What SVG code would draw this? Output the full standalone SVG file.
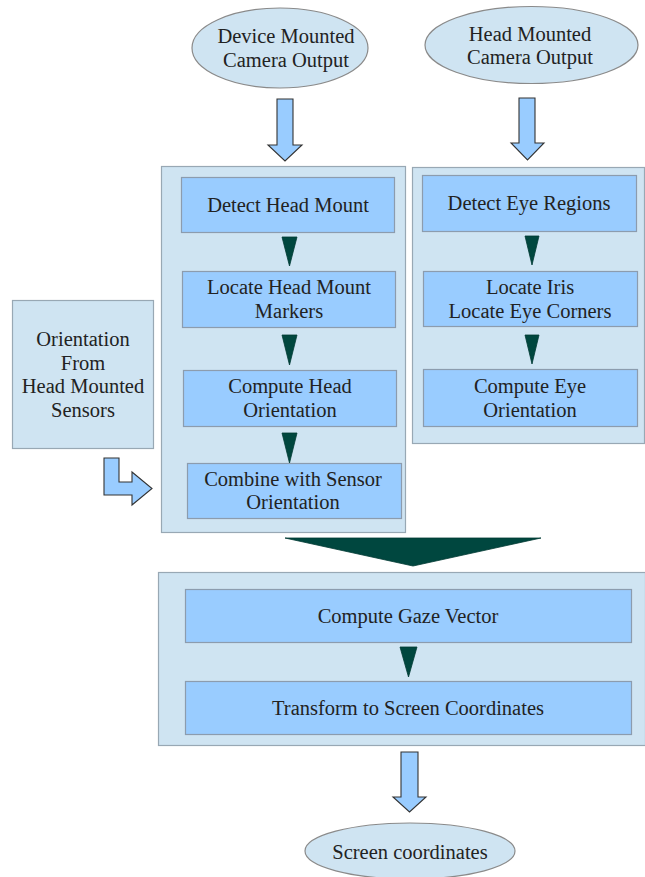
<svg xmlns="http://www.w3.org/2000/svg" width="645" height="877" viewBox="0 0 645 877">
<defs>
<style>
.bg{fill:#ffffff}
.cont{fill:#cfe4f2;stroke:#98a8b4;stroke-width:1.2}
.box{fill:#99ccff;stroke:#8c9cae;stroke-width:1.2}
.ell{fill:#cfe4f2;stroke:#8a8a8a;stroke-width:1.2}
.arr{fill:#99ccff;stroke:#333333;stroke-width:1.1;stroke-linejoin:miter}
.tri{fill:#00473f;stroke:#003a34;stroke-width:0.8}
.t{font-size:20.5px;fill:#222222;text-anchor:middle}
</style>
</defs>
<rect class="bg" x="0" y="0" width="645" height="877"/>

<g id="containers">
<rect id="left-column" class="cont" x="161.5" y="166.5" width="244" height="366"/>
<rect id="right-column" class="cont" x="412.5" y="167.5" width="232" height="276"/>
<rect id="bottom-column" class="cont" x="158.5" y="572.5" width="487" height="173"/>
</g>

<g class="t" font-family="Liberation Serif, Tinos, DejaVu Serif, serif">

<g id="device-camera">
<ellipse class="ell" cx="280" cy="48" rx="88" ry="40"/>
<text x="286" y="43">Device Mounted</text>
<text x="286" y="67">Camera Output</text>
</g>

<g id="head-camera">
<ellipse class="ell" cx="531.5" cy="45" rx="106.5" ry="38.5"/>
<text x="530" y="41">Head Mounted</text>
<text x="530" y="64">Camera Output</text>
</g>

<g id="sensors">
<rect class="cont" x="12.5" y="300.5" width="141" height="148"/>
<text x="83" y="346">Orientation</text>
<text x="83" y="369.5">From</text>
<text x="83" y="393">Head Mounted</text>
<text x="83" y="416.5">Sensors</text>
</g>

<g id="detect-head-mount">
<rect class="box" x="181.5" y="177.5" width="213" height="55"/>
<text x="288" y="212">Detect Head Mount</text>
</g>

<g id="locate-markers">
<rect class="box" x="182.5" y="271.5" width="213" height="56"/>
<text x="289" y="294">Locate Head Mount</text>
<text x="289" y="318">Markers</text>
</g>

<g id="compute-head">
<rect class="box" x="183.5" y="370.5" width="213" height="56"/>
<text x="290" y="393">Compute Head</text>
<text x="290" y="417">Orientation</text>
</g>

<g id="combine">
<rect class="box" x="187.5" y="463.5" width="214" height="55"/>
<text x="293" y="485.5">Combine with Sensor</text>
<text x="293" y="509">Orientation</text>
</g>

<g id="detect-eye">
<rect class="box" x="422.5" y="175.5" width="214" height="56"/>
<text x="529" y="210">Detect Eye Regions</text>
</g>

<g id="locate-iris">
<rect class="box" x="423.5" y="271.5" width="214" height="55"/>
<text x="530" y="293.5">Locate Iris</text>
<text x="530" y="317.5">Locate Eye Corners</text>
</g>

<g id="compute-eye">
<rect class="box" x="423.5" y="369.5" width="214" height="57"/>
<text x="530" y="392.5">Compute Eye</text>
<text x="530" y="416.5">Orientation</text>
</g>

<g id="gaze-vector">
<rect class="box" x="185.5" y="589.5" width="446" height="53"/>
<text x="408" y="622.5">Compute Gaze Vector</text>
</g>

<g id="transform">
<rect class="box" x="185.5" y="681.5" width="446" height="53"/>
<text x="408" y="714.5">Transform to Screen Coordinates</text>
</g>

<g id="screen-coordinates">
<ellipse class="ell" cx="410" cy="851" rx="105" ry="28"/>
<text x="410" y="859">Screen coordinates</text>
</g>

</g>

<g id="connectors">
<polygon class="arr" points="277,99 293,99 293,145 302,145 285,161 268,145 277,145"/>
<polygon class="arr" points="519,98 535,98 535,143 544,143 527.5,160 511,143 519,143"/>
<polygon class="arr" points="401,752 418,752 418,797 426,797 409.5,812 393,797 401,797"/>
<polygon class="arr" points="104,458 119,458 119,482 132,482 132,472 152,488.5 132,505 132,495 104,495"/>
<polygon class="tri" points="282,237 297,237 289.5,266"/>
<polygon class="tri" points="282,335 297,335 289.5,365"/>
<polygon class="tri" points="282,433 297,433 289.5,463"/>
<polygon class="tri" points="525,236 539,236 532,265"/>
<polygon class="tri" points="525,335 539,335 532,364"/>
<polygon class="tri" points="400,647 417,647 408.5,677"/>
<polygon class="tri" points="285,538 541,538 413,566"/>
</g>
</svg>
